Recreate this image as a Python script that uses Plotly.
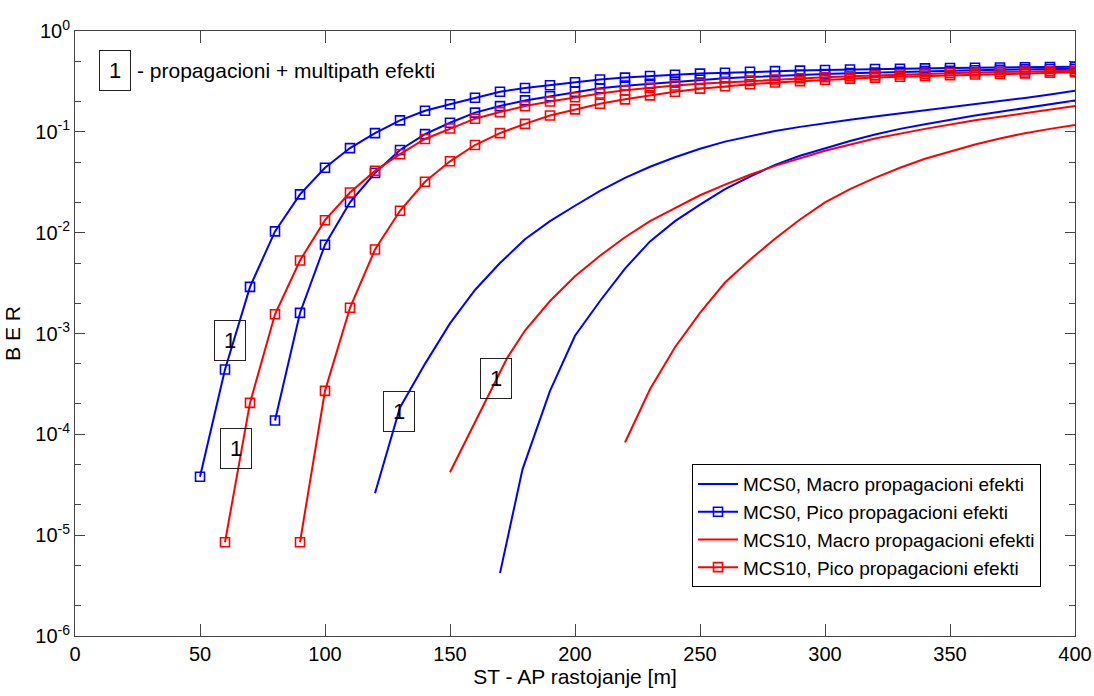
import math
import plotly.graph_objects as go

# ---------------- data ----------------
# MCS0, Pico propagacioni efekti (two curves, square markers)
pico0a_x = [50, 60, 70, 80, 90, 100, 110, 120, 130, 140, 150, 160, 170, 180, 190, 200, 210, 220,
            230, 240, 250, 260, 270, 280, 290, 300, 310, 320, 330, 340, 350, 360, 370, 380, 390, 400]
pico0a_y = [3.8e-5, 4.4e-4, 2.9e-3, 1.03e-2, 2.4e-2, 4.4e-2, 6.9e-2, 9.7e-2, 0.13, 0.162, 0.188, 0.218,
            0.25, 0.272, 0.29, 0.31, 0.33, 0.345, 0.358, 0.368, 0.378, 0.386, 0.394, 0.40, 0.405, 0.41,
            0.415, 0.42, 0.423, 0.426, 0.43, 0.432, 0.435, 0.437, 0.44, 0.442]

pico0b_x = [80, 90, 100, 110, 120, 130, 140, 150, 160, 170, 180, 190, 200, 210, 220, 230, 240, 250,
            260, 270, 280, 290, 300, 310, 320, 330, 340, 350, 360, 370, 380, 390, 400]
pico0b_y = [1.37e-4, 1.6e-3, 7.6e-3, 2.0e-2, 3.9e-2, 6.6e-2, 0.095, 0.123, 0.155, 0.18, 0.205, 0.225,
            0.25, 0.27, 0.287, 0.30, 0.315, 0.328, 0.34, 0.35, 0.36, 0.368, 0.375, 0.382, 0.388, 0.394,
            0.40, 0.404, 0.408, 0.412, 0.416, 0.42, 0.423]

# MCS10, Pico propagacioni efekti (two curves, square markers)
pico10a_x = [60, 70, 80, 90, 100, 110, 120, 130, 140, 150, 160, 170, 180, 190, 200, 210, 220, 230,
             240, 250, 260, 270, 280, 290, 300, 310, 320, 330, 340, 350, 360, 370, 380, 390, 400]
pico10a_y = [8.5e-6, 2.05e-4, 1.55e-3, 5.3e-3, 1.33e-2, 2.5e-2, 4.1e-2, 0.06, 0.085, 0.108, 0.135,
             0.157, 0.18, 0.2, 0.22, 0.24, 0.258, 0.273, 0.288, 0.30, 0.31, 0.32, 0.33, 0.34, 0.348,
             0.356, 0.363, 0.37, 0.376, 0.382, 0.387, 0.392, 0.396, 0.40, 0.404]

pico10b_x = [90, 100, 110, 120, 130, 140, 150, 160, 170, 180, 190, 200, 210, 220, 230, 240, 250, 260,
             270, 280, 290, 300, 310, 320, 330, 340, 350, 360, 370, 380, 390, 400]
pico10b_y = [8.5e-6, 2.7e-4, 1.8e-3, 6.8e-3, 1.65e-2, 3.2e-2, 5.1e-2, 7.4e-2, 0.097, 0.12, 0.145,
             0.167, 0.19, 0.21, 0.23, 0.25, 0.268, 0.283, 0.296, 0.308, 0.318, 0.328, 0.337, 0.345,
             0.352, 0.358, 0.364, 0.37, 0.375, 0.38, 0.385, 0.39]

# MCS0, Macro propagacioni efekti (two curves, no markers)
macro0a_x = [120, 130, 140, 150, 160, 170, 180, 190, 200, 210, 220, 230, 240, 250, 260, 270, 280,
             290, 300, 310, 320, 330, 340, 350, 360, 370, 380, 390, 400]
macro0a_y = [2.6e-5, 1.85e-4, 5.0e-4, 1.26e-3, 2.7e-3, 5.0e-3, 8.6e-3, 1.3e-2, 1.85e-2, 0.026, 0.035,
             0.045, 0.056, 0.068, 0.080, 0.091, 0.102, 0.112, 0.122, 0.132, 0.142, 0.152, 0.163,
             0.175, 0.188, 0.202, 0.217, 0.234, 0.255]

macro0b_x = [170, 179, 190, 200, 210, 220, 230, 240, 250, 260, 270, 280, 290, 300, 310, 320, 330,
             340, 350, 360, 370, 380, 390, 400]
macro0b_y = [4.2e-6, 4.5e-5, 2.7e-4, 9.5e-4, 2.1e-3, 4.4e-3, 8.2e-3, 1.3e-2, 1.9e-2, 2.7e-2, 3.6e-2,
             4.7e-2, 0.058, 0.069, 0.081, 0.094, 0.107, 0.119, 0.132, 0.145, 0.158, 0.172, 0.188, 0.205]

# MCS10, Macro propagacioni efekti (two curves, no markers)
macro10a_x = [150, 160, 173, 180, 190, 200, 210, 220, 230, 240, 250, 260, 270, 280, 290, 300, 320,
              340, 360, 380, 400]
macro10a_y = [4.2e-5, 1.32e-4, 5.8e-4, 1.07e-3, 2.1e-3, 3.7e-3, 5.9e-3, 9.0e-3, 1.3e-2, 1.75e-2,
              2.35e-2, 3.0e-2, 3.75e-2, 4.6e-2, 5.5e-2, 6.5e-2, 8.6e-2, 0.107, 0.13, 0.154, 0.18]

macro10b_x = [220, 230, 240, 250, 260, 270, 280, 290, 300, 310, 320, 330, 340, 350, 360, 370, 380,
              390, 400]
macro10b_y = [8.3e-5, 2.8e-4, 7.3e-4, 1.6e-3, 3.2e-3, 5.4e-3, 8.7e-3, 1.35e-2, 2.0e-2, 2.7e-2,
              3.5e-2, 4.4e-2, 5.4e-2, 6.4e-2, 7.5e-2, 8.6e-2, 9.7e-2, 0.107, 0.117]

legend_names = ["MCS0, Macro propagacioni efekti", "MCS0, Pico propagacioni efekti",
                "MCS10, Macro propagacioni efekti", "MCS10, Pico propagacioni efekti"]

x_ticks = [0, 50, 100, 150, 200, 250, 300, 350, 400]
y_ticks = [1e-6, 1e-5, 1e-4, 1e-3, 1e-2, 1e-1, 1]
y_ticktext = ["10<sup>-6</sup>", "10<sup>-5</sup>", "10<sup>-4</sup>", "10<sup>-3</sup>",
              "10<sup>-2</sup>", "10<sup>-1</sup>", "10<sup>0</sup>"]

# "1" label boxes: (x, BER)
label_x = [61.8, 64.2, 129.6, 168.4]
label_y = [8.5e-4, 7.2e-5, 1.7e-4, 3.6e-4]

x_title = "ST - AP rastojanje [m]"
y_title = "B E R"
note_text = "- propagacioni + multipath efekti"

# ---------------- figure ----------------
FONT = "Liberation Sans, Arial, sans-serif"
BLUE = "#0000ff"
RED = "#ff0000"

fig = go.Figure()

def add_line(x, y, color, name, show, group):
    fig.add_trace(go.Scatter(x=x, y=y, mode="lines", line=dict(color=color, width=2),
                             name=name, showlegend=show, legendgroup=group))

def add_marked(x, y, color, name, show, group):
    fig.add_trace(go.Scatter(x=x, y=y, mode="lines+markers", line=dict(color=color, width=2),
                             marker=dict(symbol="square-open", size=9, color=color,
                                         line=dict(width=1.6, color=color)),
                             name=name, showlegend=show, legendgroup=group))

add_line(macro0a_x, macro0a_y, BLUE, legend_names[0], True, "g0")
add_line(macro0b_x, macro0b_y, BLUE, legend_names[0], False, "g0")
add_marked(pico0a_x, pico0a_y, BLUE, legend_names[1], True, "g1")
add_marked(pico0b_x, pico0b_y, BLUE, legend_names[1], False, "g1")
add_line(macro10a_x, macro10a_y, RED, legend_names[2], True, "g2")
add_line(macro10b_x, macro10b_y, RED, legend_names[2], False, "g2")
add_marked(pico10a_x, pico10a_y, RED, legend_names[3], True, "g3")
add_marked(pico10b_x, pico10b_y, RED, legend_names[3], False, "g3")

annotations = []
for lx, ly in zip(label_x, label_y):
    annotations.append(dict(x=lx, y=math.log10(ly), xref="x", yref="y", text="1",
                            showarrow=False, font=dict(family=FONT, size=22, color="black"),
                            bordercolor="#222", borderwidth=1, borderpad=0,
                            width=30, height=39, bgcolor="rgba(0,0,0,0)"))
# top-left note
annotations.append(dict(x=16, y=-0.392, xref="x", yref="y", text="1", showarrow=False,
                        font=dict(family=FONT, size=22, color="black"),
                        bordercolor="#222", borderwidth=1, borderpad=0, width=30, height=39))
annotations.append(dict(x=23.8, y=-0.392, xref="x", yref="y", text=note_text, showarrow=False,
                        xanchor="left", font=dict(family=FONT, size=21, color="black")))

fig.update_layout(
    width=1094, height=696,
    margin=dict(l=75, r=19, t=31, b=60, autoexpand=False),
    paper_bgcolor="white", plot_bgcolor="white",
    font=dict(family=FONT, size=20, color="black"),
    showlegend=True,
    legend=dict(x=0.617, y=0.284, xanchor="left", yanchor="top",
                bgcolor="white", bordercolor="black", borderwidth=1,
                font=dict(family=FONT, size=19, color="black"),
                itemwidth=40, tracegroupgap=0),
    annotations=annotations,
)

fig.update_xaxes(range=[0, 400], tickvals=x_ticks, ticks="inside", ticklen=12,
                 showline=True, linecolor="#444", linewidth=1, mirror="ticks",
                 showgrid=False, zeroline=False, automargin=False,
                 title=dict(text=x_title, font=dict(family=FONT, size=21), standoff=4),
                 tickfont=dict(family=FONT, size=20))
fig.update_yaxes(type="log", range=[-6, 0], tickvals=y_ticks, ticktext=y_ticktext,
                 ticks="inside", ticklen=10,
                 minor=dict(ticks="inside", ticklen=6, showgrid=False),
                 showline=True, linecolor="#444", linewidth=1, mirror="ticks",
                 showgrid=False, zeroline=False, automargin=False,
                 title=dict(text=y_title, font=dict(family=FONT, size=21), standoff=8),
                 tickfont=dict(family=FONT, size=20))

fig.write_html("out.html", config={"displayModeBar": False})
